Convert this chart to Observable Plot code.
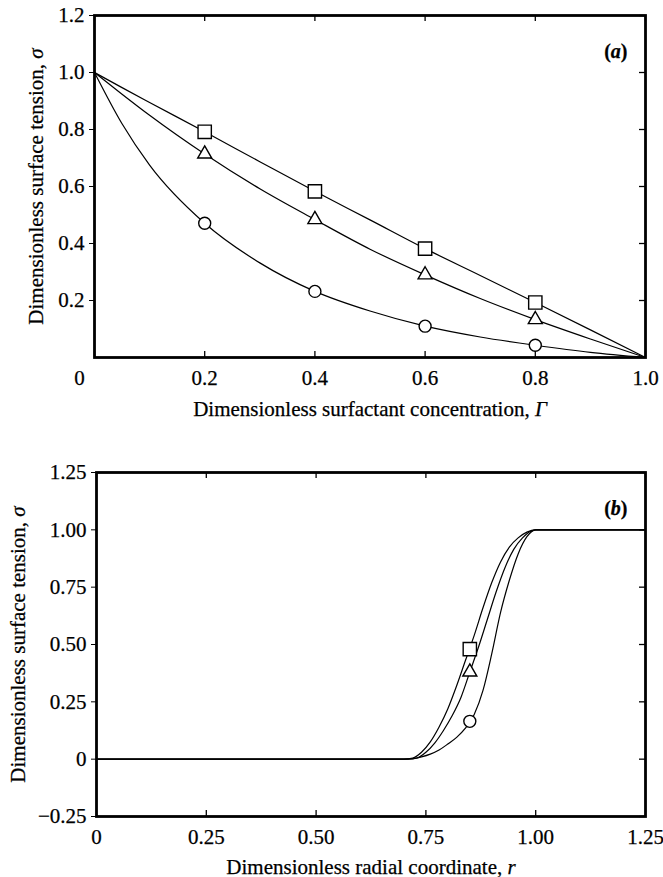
<!DOCTYPE html>
<html><head><meta charset="utf-8">
<script src="https://cdn.jsdelivr.net/npm/d3@7"></script>
<script src="https://cdn.jsdelivr.net/npm/@observablehq/plot@0.6"></script>
<style>
body{margin:0;background:#fff;}
#chart{width:663px;}
#chart svg{display:block;}
#chart svg text{stroke:black;stroke-width:0.25px;}
</style></head><body><div id="chart"></div>
<script>
// ---------- Panel (a) data ----------
const gammaA = [0, 0.05, 0.1, 0.2, 0.3, 0.4, 0.5, 0.6, 0.7, 0.8, 0.9, 1.0];
const sigmaSquareA   = [1, 0.947, 0.895, 0.792, 0.687, 0.583, 0.483, 0.382, 0.288, 0.193, 0.097, 0];
const sigmaTriangleA = [1, 0.924, 0.850, 0.714, 0.592, 0.484, 0.380, 0.290, 0.207, 0.133, 0.065, 0];
const sigmaCircleA   = [1, 0.820, 0.675, 0.471, 0.332, 0.232, 0.163, 0.110, 0.072, 0.043, 0.018, 0];
const gammaMarkersA  = [0.2, 0.4, 0.6, 0.8];
const squareMarkersA   = [0.792, 0.583, 0.382, 0.193];
const triangleMarkersA = [0.714, 0.484, 0.290, 0.133];
const circleMarkersA   = [0.471, 0.232, 0.110, 0.043];
const xTicksA = [0.2, 0.4, 0.6, 0.8, 1.0];
const xZeroTickA = [0];
const yTicksA = [0.2, 0.4, 0.6, 0.8, 1.0, 1.2];

// ---------- Panel (b) data ----------
const rSquareB   = [0, 0.70, 0.72, 0.74, 0.76, 0.78, 0.80, 0.82, 0.84, 0.86, 0.88, 0.90, 0.92, 0.94, 0.96, 0.98, 1.0, 1.25];
const sigmaSquareB = [0, 0, 0.005, 0.03, 0.075, 0.14, 0.22, 0.32, 0.43, 0.54, 0.66, 0.77, 0.86, 0.925, 0.965, 0.99, 1.0, 1.0];
const rTriangleB = [0, 0.71, 0.73, 0.75, 0.77, 0.79, 0.81, 0.83, 0.85, 0.87, 0.89, 0.91, 0.93, 0.95, 0.97, 0.99, 1.0, 1.25];
const sigmaTriangleB = [0, 0, 0.005, 0.03, 0.07, 0.125, 0.19, 0.27, 0.38, 0.49, 0.61, 0.73, 0.835, 0.915, 0.965, 0.995, 1.0, 1.0];
const rCircleB   = [0, 0.70, 0.72, 0.74, 0.76, 0.78, 0.80, 0.82, 0.84, 0.86, 0.88, 0.90, 0.92, 0.94, 0.96, 0.98, 1.0, 1.25];
const sigmaCircleB = [0, 0, 0.002, 0.01, 0.022, 0.04, 0.066, 0.095, 0.135, 0.195, 0.30, 0.46, 0.64, 0.78, 0.895, 0.97, 1.0, 1.0];
const rMarkersB = [0.85];
const squareMarkersB = [0.48];
const triangleMarkersB = [0.38];
const circleMarkersB = [0.165];
const xTicksB = [0, 0.25, 0.5, 0.75, 1.0, 1.25];
const yTicksB = [-0.25, 0, 0.25, 0.5, 0.75, 1.0, 1.25];

const panelLabels = ["(a)", "(b)"];
const xTitles = ["Dimensionless surfactant concentration, \u0393", "Dimensionless radial coordinate, r"];
const yTitle = "Dimensionless surface tension, \u03C3";

const FONT = "'Liberation Serif', 'Times New Roman', serif";
const FS = 21;
const W = 663;
const zip = (xs, ys) => xs.map((x, i) => ({x, y: ys[i]}));
const fmtB = d => d === 0 ? "0" : d.toFixed(2).replace("-", "\u2212");

// split a text element so that the part after `start` chars is italic
function italicTail(node, start, end) {
  const s = node.textContent;
  const t = d3.select(node); t.text("");
  t.append("tspan").text(s.slice(0, start));
  t.append("tspan").attr("font-style", "italic").text(s.slice(start, end));
  if (end < s.length) t.append("tspan").text(s.slice(end));
}

function panel({height, mt, mb, ml, mr, xDomain, yDomain, xTicks, xTicksExtra, yTicks, xFmt, yFmt,
                series, markers, label, xTitle, yLabelOffset, xLabelOffset}) {
  const innerH = height - mt - mb, innerW = W - ml - mr;
  const marks = [
    Plot.axisY({ticks: yTicks, tickSize: 5, tickPadding: 5, tickFormat: yFmt, label: yTitle,
      labelAnchor: "center", labelOffset: yLabelOffset, labelArrow: "none", fontSize: FS}),
    Plot.axisX({ticks: xTicks, tickSize: 0, tickPadding: 13, tickFormat: xFmt, label: xTitle,
      labelAnchor: "center", labelOffset: xLabelOffset, labelArrow: "none", fontSize: FS}),
  ];
  if (xTicksExtra) marks.push(Plot.axisX({ticks: xTicksExtra, tickSize: 0, tickPadding: 13, tickFormat: xFmt, label: null, dx: -15, fontSize: FS}));
  const inTicksX = xTicks.concat(xTicksExtra || []);
  marks.push(
    Plot.tickX(inTicksX, {x: d => d, insetTop: innerH - 6, stroke: "black", strokeWidth: 1.3}),
    Plot.tickX(inTicksX, {x: d => d, insetBottom: innerH - 6, stroke: "black", strokeWidth: 1.3}),
    Plot.tickY(yTicks, {y: d => d, insetLeft: innerW - 6, stroke: "black", strokeWidth: 1.3})
  );
  for (const s of series) marks.push(Plot.line(s, {x: "x", y: "y", curve: "monotone-x", stroke: "black", strokeWidth: 1.2}));
  for (const m of markers) marks.push(Plot.dot(m.data, {x: "x", y: "y", symbol: m.symbol, r: m.r, stroke: "black", fill: "white", strokeWidth: 1.4}));
  marks.push(Plot.frame({stroke: "black", strokeWidth: 2.8}));
  marks.push(Plot.text([label], {frameAnchor: "top-right", dx: -18, dy: 28, fontSize: 20, fontWeight: "bold", fontFamily: FONT, fill: "black"}));
  const svg = Plot.plot({
    width: W, height, marginTop: mt, marginBottom: mb, marginLeft: ml, marginRight: mr,
    style: {fontFamily: FONT, fontSize: FS + "px", color: "black", background: "white", overflow: "visible"},
    x: {domain: xDomain}, y: {domain: yDomain},
    marks
  });
  d3.select(svg).selectAll("text").each(function() {
    const s = this.textContent;
    if (s === label) italicTail(this, 1, s.length - 1);
    else if (s === xTitle || s === yTitle) italicTail(this, s.length - 1, s.length);
  });
  return svg;
}

const chart = document.getElementById("chart");
chart.appendChild(panel({
  height: 430, mt: 15, mb: 73, ml: 94, mr: 18,
  xDomain: [0, 1], yDomain: [0, 1.2],
  xTicks: xTicksA, xTicksExtra: xZeroTickA, yTicks: yTicksA,
  xFmt: d => d === 0 ? "0" : d.toFixed(1), yFmt: d => d.toFixed(1),
  series: [zip(gammaA, sigmaSquareA), zip(gammaA, sigmaTriangleA), zip(gammaA, sigmaCircleA)],
  markers: [
    {data: zip(gammaMarkersA, squareMarkersA), symbol: "square", r: 7.5},
    {data: zip(gammaMarkersA, triangleMarkersA), symbol: "triangle", r: 5.2},
    {data: zip(gammaMarkersA, circleMarkersA), symbol: "circle", r: 6}
  ],
  label: panelLabels[0], xTitle: xTitles[0], yLabelOffset: 66, xLabelOffset: 58
}));
chart.appendChild(panel({
  height: 447, mt: 42, mb: 61, ml: 96, mr: 18,
  xDomain: [0, 1.25], yDomain: [-0.25, 1.25],
  xTicks: xTicksB, xTicksExtra: null, yTicks: yTicksB,
  xFmt: fmtB, yFmt: fmtB,
  series: [zip(rSquareB, sigmaSquareB), zip(rTriangleB, sigmaTriangleB), zip(rCircleB, sigmaCircleB)],
  markers: [
    {data: zip(rMarkersB, squareMarkersB), symbol: "square", r: 7.5},
    {data: zip(rMarkersB, triangleMarkersB), symbol: "triangle", r: 5.2},
    {data: zip(rMarkersB, circleMarkersB), symbol: "circle", r: 6}
  ],
  label: panelLabels[1], xTitle: xTitles[1], yLabelOffset: 86, xLabelOffset: 57
}));
</script>
</body></html>
